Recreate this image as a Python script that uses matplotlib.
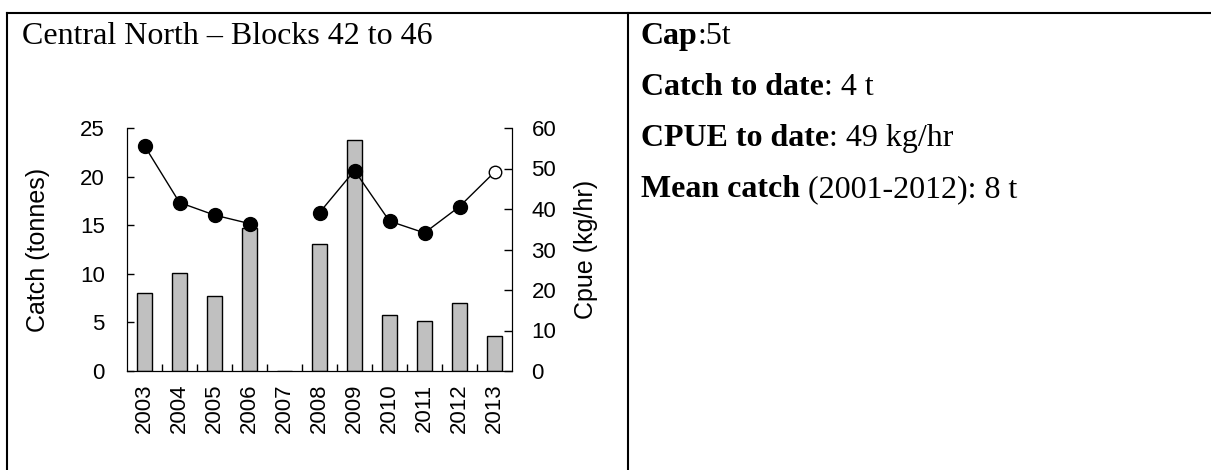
import numpy as np
import matplotlib
matplotlib.use("Agg")
import matplotlib.pyplot as plt
from matplotlib.lines import Line2D

years = ['2003', '2004', '2005', '2006', '2007', '2008',
         '2009', '2010', '2011', '2012', '2013']
catch = [8.0, 10.1, 7.7, 14.7, 0.0, 13.1, 23.8, 5.8, 5.1, 7.0, 3.6]
cpue = [55.6, 41.6, 38.5, 36.4, np.nan, 39.1, 49.5, 37.0, 34.1, 40.6, 49.1]

title = 'Central North – Blocks 42 to 46'
info = [('Cap', ':5t'),
        ('Catch to date', ': 4 t'),
        ('CPUE to date', ': 49 kg/hr'),
        ('Mean catch', ' (2001-2012): 8 t')]

W, H = 1211, 470
fig = plt.figure(figsize=(W / 100, H / 100), dpi=100)
sans = 'Liberation Sans'
serif = 'Liberation Serif'


def fx(x):
    return x / W


def fy(y):
    return 1 - y / H


# table borders
for xs, ys in [([6.5, W], [13, 13]), ([6.5, 6.5], [13, H]), ([628, 628], [13, H])]:
    fig.add_artist(Line2D([fx(v) for v in xs], [fy(v) for v in ys],
                          color='black', lw=1.5))

fig.text(fx(22), fy(44), title, family=serif, fontsize=23, va='baseline')

# chart
ax = fig.add_axes([fx(127), fy(371), (512 - 127) / W, (371 - 128) / H])
x = np.arange(len(years))
ax.bar(x, catch, width=0.44, color='#c0c0c0', edgecolor='black', linewidth=1.0, zorder=2)
ax.set_xlim(-0.5, len(years) - 0.5)
ax.set_ylim(0, 25)
ax.set_yticks(range(0, 26, 5))
ax.set_xticks(x)
ax.set_xticklabels(years, rotation=90, family=sans, fontsize=16)
ax.set_xticks(np.arange(0.5, len(years) - 1, 1), minor=True)
ax.tick_params(axis='x', which='major', length=0, pad=9)
ax.tick_params(axis='x', which='minor', direction='in', length=5, width=1)
ax.tick_params(axis='y', direction='in', length=5, width=1, pad=16, labelsize=16)
for lab in ax.get_yticklabels():
    lab.set_family(sans)
ax.spines['top'].set_visible(False)
ax.set_ylabel('Catch (tonnes)', family=sans, fontsize=18)
ax.yaxis.set_label_coords(-0.20, 0.5)

ax2 = ax.twinx()
ax2.set_ylim(0, 60)
ax2.set_yticks(range(0, 61, 10))
ax2.tick_params(axis='y', direction='in', length=6, width=1, pad=14, labelsize=16)
for lab in ax2.get_yticklabels():
    lab.set_family(sans)
ax2.spines['top'].set_visible(False)
ax2.plot(x, cpue, color='black', lw=1.0, zorder=3)
ax2.plot(x[:-1], cpue[:-1], 'o', ms=10, mfc='black', mec='black', zorder=4)
ax2.plot(x[-1:], cpue[-1:], 'o', ms=9, mfc='white', mec='black', mew=1, zorder=4)
ax2.set_ylabel('Cpue (kg/hr)', family=sans, fontsize=18)
ax2.yaxis.set_label_coords(1.16, 0.5)

# right side text
for i, (bold, rest) in enumerate(info):
    t = fig.text(fx(641), fy(44 + 51 * i), bold, family=serif, fontsize=23,
                 fontweight='bold', va='baseline')
    fig.add_artist(matplotlib.text.Annotation(rest, xy=(1, 0), xycoords=t,
                                              va='bottom', ha='left',
                                              family=serif, fontsize=23))

fig.savefig('out.png', dpi=100)
